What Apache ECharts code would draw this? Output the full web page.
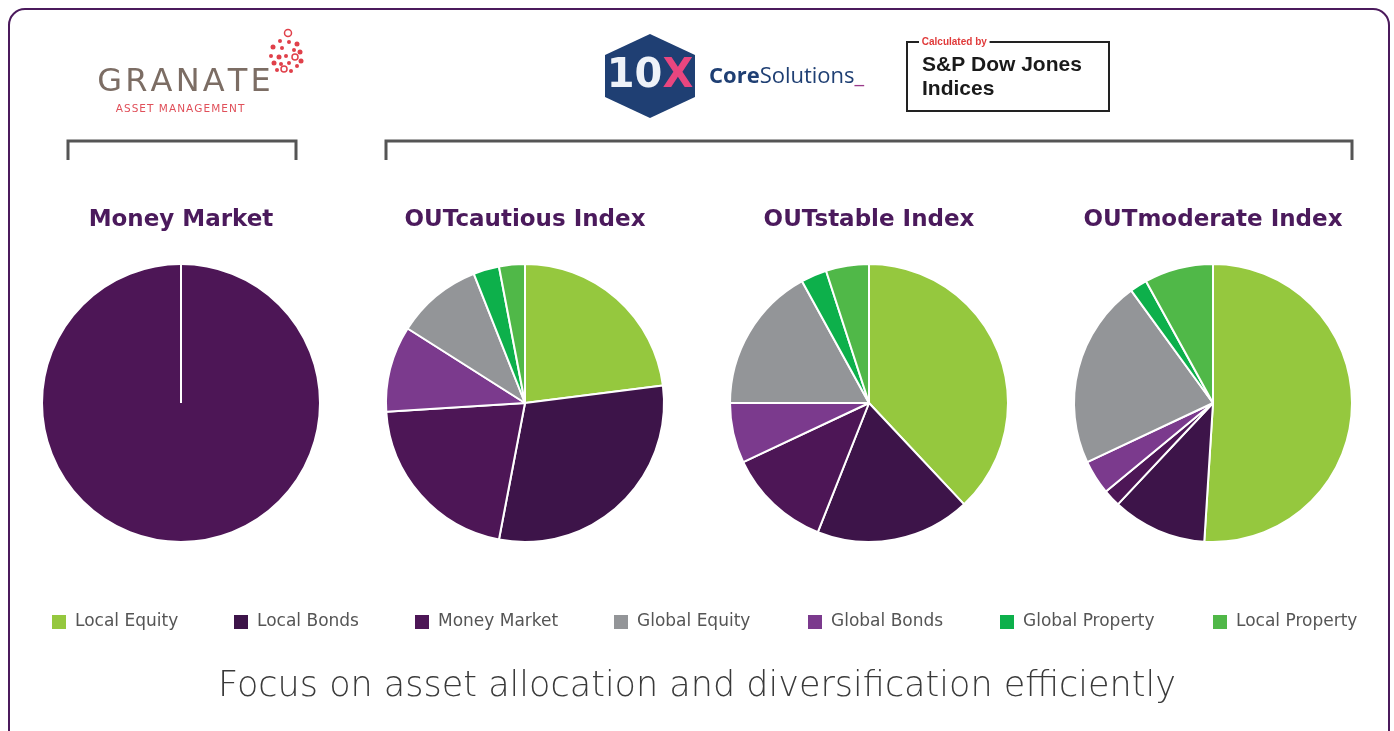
<!DOCTYPE html>
<html>
<head>
<meta charset="utf-8">
<script src="https://cdn.jsdelivr.net/npm/echarts@6/dist/echarts.min.js"></script>
<style>
  html, body { margin: 0; padding: 0; background: #fff; }
  #chart { width: 1394px; height: 731px; }
</style>
</head>
<body>
<div id="chart"></div>
<script>
// legend order
var assetNames = ['Local Equity', 'Local Bonds', 'Money Market', 'Global Equity', 'Global Bonds', 'Global Property', 'Local Property'];
var assetColors = ['#95c83e', '#3d1449', '#4d1656', '#939598', '#7b3a8d', '#0db04b', '#50b848'];

// order of the slices, clockwise from 12 o'clock
var sliceOrder = ['Local Equity', 'Local Bonds', 'Money Market', 'Global Bonds', 'Global Equity', 'Global Property', 'Local Property'];

var pieTitles = ['Money Market', 'OUTcautious Index', 'OUTstable Index', 'OUTmoderate Index'];
var moneyMarketMix = [0, 0, 100, 0, 0, 0, 0];
var cautiousMix = [23, 30, 21, 10, 10, 3, 3];
var stableMix = [38, 18, 12, 7, 17, 3, 5];
var moderateMix = [51, 11, 2, 4, 22, 2, 8];
var mixes = [moneyMarketMix, cautiousMix, stableMix, moderateMix];

var subtitle = 'Focus on asset allocation and diversification efficiently';

(function() {
  var purple = '#4b1a5c';
  var bracket = '#555555';
  var centersX = [181, 525, 869, 1213];
  var centerY = 403;
  var radius = 139;
  var legendLeft = [50, 232, 413, 612, 806, 998, 1211];

  function colorOf(name) {
    return assetColors[assetNames.indexOf(name)];
  }

  function spaced(s) {
    return s.split('').join('\u200A');
  }

  var series = mixes.map(function(mix, i) {
    return {
      type: 'pie',
      name: pieTitles[i],
      center: [centersX[i], centerY],
      radius: radius,
      startAngle: 90,
      clockwise: true,
      label: { show: false },
      labelLine: { show: false },
      emphasis: { disabled: true },
      itemStyle: { borderColor: '#fff', borderWidth: 2 },
      data: sliceOrder.map(function(name, k) {
        return { name: name, value: mix[k], itemStyle: { color: colorOf(name) } };
      }).filter(function(d) { return i !== 0 || d.value > 0; })
    };
  });

  var titles = pieTitles.map(function(t, i) {
    return {
      text: t,
      left: centersX[i] - 5,
      top: 204,
      textAlign: 'center',
      textStyle: { color: purple, fontSize: 23, fontWeight: 'bold', fontFamily: 'DejaVu Sans' }
    };
  });
  titles.push({
    text: subtitle,
    left: 'center',
    top: 664,
    textStyle: { color: '#3a3a3a', fontSize: 35, fontWeight: 200, fontFamily: 'DejaVu Sans' }
  });

  var legends = assetNames.map(function(name, i) {
    return {
      data: [{ name: name, itemStyle: { color: assetColors[i] } }],
      left: legendLeft[i] - 5,
      top: 608,
      icon: 'rect',
      itemWidth: 16,
      itemHeight: 16,
      selectedMode: false,
      textStyle: { color: '#555', fontSize: 17, fontFamily: 'DejaVu Sans', padding: [0, 0, 0, 3] }
    };
  });

  // granate dots
  var dots = [
    [291, 33, 3.5, true], [283, 41, 2], [292, 42, 2], [300, 44, 2.5], [276, 47, 2.5],
    [285, 48, 2], [297, 50, 2], [303, 52, 2.5], [274, 56, 2], [282, 57, 2.5],
    [289, 56, 2], [298, 57, 3, true], [304, 61, 2.5], [277, 63, 2.5], [284, 64, 2],
    [292, 63, 2], [300, 66, 2], [287, 69, 3, true], [280, 70, 2], [294, 71, 2]
  ].map(function(d) {
    return {
      type: 'circle',
      shape: { cx: d[0] - 3, cy: d[1], r: d[2] },
      style: d[3] ? { fill: 'none', stroke: '#e0404a', lineWidth: 1.5 } : { fill: '#e0404a' }
    };
  });

  var graphics = [
    { type: 'rect', shape: { x: 9, y: 9, width: 1380, height: 740, r: 16 },
      style: { fill: 'none', stroke: purple, lineWidth: 2 } },
    // brackets
    { type: 'polyline', shape: { points: [[68, 160], [68, 141], [296, 141], [296, 160]] },
      style: { fill: 'none', stroke: bracket, lineWidth: 3 } },
    { type: 'polyline', shape: { points: [[386, 160], [386, 141], [1352, 141], [1352, 160]] },
      style: { fill: 'none', stroke: bracket, lineWidth: 3 } },
    // money market single slice seam
    { type: 'line', shape: { x1: centersX[0], y1: centerY - radius, x2: centersX[0], y2: centerY },
      style: { stroke: '#fff', lineWidth: 2 }, z: 10 },
    // granate logo
    { type: 'text', x: 184, y: 83, style: { text: spaced('GRANATE'), fill: '#7c6d64', font: '32px "DejaVu Sans"', align: 'center', verticalAlign: 'middle' } },
    { type: 'text', x: 180, y: 109, style: { text: spaced('ASSET MANAGEMENT'), fill: '#e0505a', font: '10.5px "DejaVu Sans"', align: 'center', verticalAlign: 'middle' } },
    // 10X logo
    { type: 'polygon', shape: { points: [[650, 34], [695, 55], [695, 97], [650, 118], [605, 97], [605, 55]] },
      style: { fill: '#1f3f73' } },
    { type: 'text', x: 650, y: 77, style: {
      text: '{a|10}{b|X}', align: 'center', verticalAlign: 'middle',
      rich: {
        a: { fill: '#eef2f8', font: 'bold 40px "DejaVu Sans"' },
        b: { fill: '#e8467f', font: 'bold 40px "DejaVu Sans"' }
      } } },
    { type: 'text', x: 709, y: 77, style: {
      text: '{a|Core}{b|Solutions}{c|_}', verticalAlign: 'middle',
      rich: {
        a: { fill: '#1f3f73', font: 'bold 22px "Open Sans"' },
        b: { fill: '#1f3f73', font: '22px "Open Sans"' },
        c: { fill: '#9a3a8a', font: '22px "Open Sans"' }
      } } },
    // S&P box
    { type: 'rect', shape: { x: 907, y: 42, width: 202, height: 69 },
      style: { fill: 'none', stroke: '#222', lineWidth: 2 } },
    { type: 'text', x: 919, y: 42, style: { text: ' Calculated by ', fill: '#e03a3a', backgroundColor: '#fff',
      font: 'bold 10px "Liberation Sans"', verticalAlign: 'middle' } },
    { type: 'text', x: 922, y: 65, style: { text: 'S&P Dow Jones', fill: '#1a1a1a', font: 'bold 21px "Liberation Sans"', verticalAlign: 'middle' } },
    { type: 'text', x: 922, y: 89, style: { text: 'Indices', fill: '#1a1a1a', font: 'bold 21px "Liberation Sans"', verticalAlign: 'middle' } }
  ].concat(dots);

  var chart = echarts.init(document.getElementById('chart'), null, { renderer: 'canvas' });
  chart.setOption({
    animation: false,
    backgroundColor: '#fff',
    title: titles,
    legend: legends,
    graphic: graphics,
    series: series
  });
  window.addEventListener('resize', function() { chart.resize(); });
})();
</script>
</body>
</html>
